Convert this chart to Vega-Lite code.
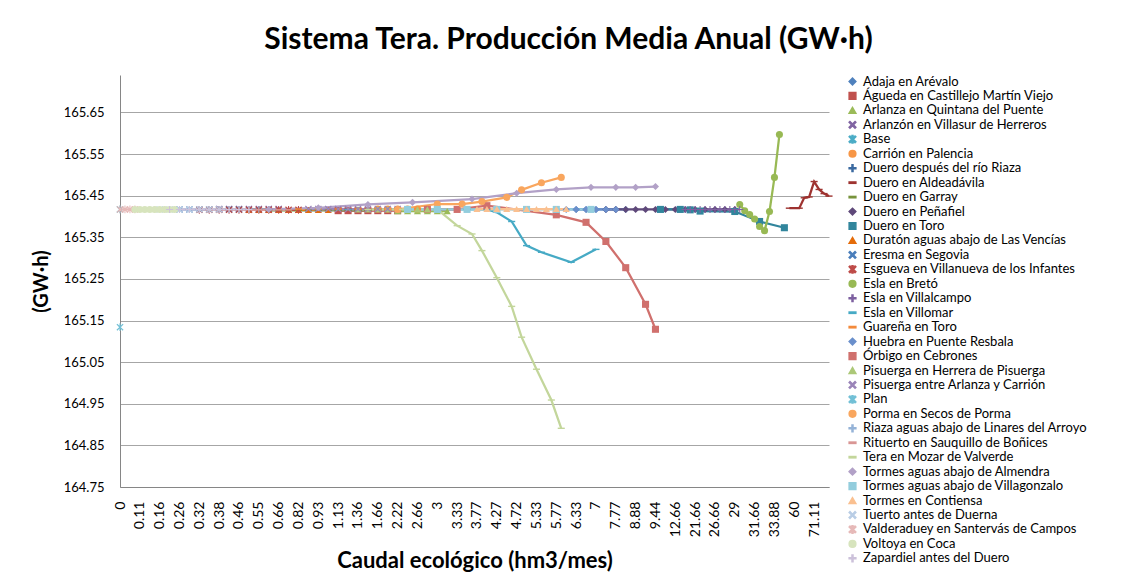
{
  "$schema": "https://vega.github.io/schema/vega-lite/v6.json",
  "width": 709,
  "height": 412,
  "autosize": {"type": "none"},
  "padding": {"left": 120, "top": 75, "right": 300, "bottom": 97},
  "background": "white",
  "title": {"text": "Sistema Tera. Producción Media Anual (GW·h)", "fontSize": 30, "font": "Lato", "fontWeight": "bold", "color": "#000000", "anchor": "middle", "frame": "group", "dx": 94, "offset": 20},
  "config": {
    "font": "Lato",
    "view": {"stroke": null},
    "legend": {"orient": "right", "offset": 12, "labelFontSize": 13, "labelColor": "#000000", "labelFont": "Lato", "labelLimit": 400, "symbolSize": 45, "rowPadding": -0.55, "gridAlign": "all", "symbolLimit": 40, "padding": 0, "title": null}
  },
  "data": {"values": [
    {"serie": "Adaja en Arévalo", "k": 92, "gwh": 165.417},
    {"serie": "Adaja en Arévalo", "k": 94, "gwh": 165.417},
    {"serie": "Adaja en Arévalo", "k": 96, "gwh": 165.417},
    {"serie": "Adaja en Arévalo", "k": 98, "gwh": 165.417},
    {"serie": "Adaja en Arévalo", "k": 100, "gwh": 165.417},
    {"serie": "Adaja en Arévalo", "k": 102, "gwh": 165.417},
    {"serie": "Águeda en Castillejo Martín Viejo", "k": 44, "gwh": 165.414},
    {"serie": "Águeda en Castillejo Martín Viejo", "k": 46, "gwh": 165.414},
    {"serie": "Águeda en Castillejo Martín Viejo", "k": 48, "gwh": 165.414},
    {"serie": "Águeda en Castillejo Martín Viejo", "k": 50, "gwh": 165.414},
    {"serie": "Águeda en Castillejo Martín Viejo", "k": 52, "gwh": 165.414},
    {"serie": "Águeda en Castillejo Martín Viejo", "k": 54, "gwh": 165.414},
    {"serie": "Águeda en Castillejo Martín Viejo", "k": 56, "gwh": 165.414},
    {"serie": "Arlanza en Quintana del Puente", "k": 56, "gwh": 165.413},
    {"serie": "Arlanza en Quintana del Puente", "k": 58, "gwh": 165.413},
    {"serie": "Arlanza en Quintana del Puente", "k": 60, "gwh": 165.413},
    {"serie": "Arlanza en Quintana del Puente", "k": 62, "gwh": 165.413},
    {"serie": "Arlanza en Quintana del Puente", "k": 64, "gwh": 165.413},
    {"serie": "Arlanza en Quintana del Puente", "k": 66, "gwh": 165.413},
    {"serie": "Arlanzón en Villasur de Herreros", "k": 20, "gwh": 165.418},
    {"serie": "Arlanzón en Villasur de Herreros", "k": 22, "gwh": 165.418},
    {"serie": "Arlanzón en Villasur de Herreros", "k": 24, "gwh": 165.418},
    {"serie": "Arlanzón en Villasur de Herreros", "k": 26, "gwh": 165.418},
    {"serie": "Arlanzón en Villasur de Herreros", "k": 28, "gwh": 165.418},
    {"serie": "Arlanzón en Villasur de Herreros", "k": 30, "gwh": 165.418},
    {"serie": "Arlanzón en Villasur de Herreros", "k": 32, "gwh": 165.418},
    {"serie": "Base", "k": 0, "gwh": 165.417},
    {"serie": "Carrión en Palencia", "k": 52, "gwh": 165.418},
    {"serie": "Carrión en Palencia", "k": 54, "gwh": 165.418},
    {"serie": "Carrión en Palencia", "k": 56, "gwh": 165.418},
    {"serie": "Carrión en Palencia", "k": 58, "gwh": 165.418},
    {"serie": "Carrión en Palencia", "k": 60, "gwh": 165.418},
    {"serie": "Carrión en Palencia", "k": 62, "gwh": 165.418},
    {"serie": "Duero después del río Riaza", "k": 14, "gwh": 165.417},
    {"serie": "Duero después del río Riaza", "k": 16, "gwh": 165.417},
    {"serie": "Duero después del río Riaza", "k": 18, "gwh": 165.417},
    {"serie": "Duero después del río Riaza", "k": 20, "gwh": 165.417},
    {"serie": "Duero después del río Riaza", "k": 22, "gwh": 165.417},
    {"serie": "Duero después del río Riaza", "k": 24, "gwh": 165.417},
    {"serie": "Duero después del río Riaza", "k": 26, "gwh": 165.417},
    {"serie": "Duero después del río Riaza", "k": 28, "gwh": 165.417},
    {"serie": "Duero después del río Riaza", "k": 30, "gwh": 165.417},
    {"serie": "Duero en Aldeadávila", "k": 135, "gwh": 165.42},
    {"serie": "Duero en Aldeadávila", "k": 136, "gwh": 165.42},
    {"serie": "Duero en Aldeadávila", "k": 137, "gwh": 165.42},
    {"serie": "Duero en Aldeadávila", "k": 138, "gwh": 165.445},
    {"serie": "Duero en Aldeadávila", "k": 139, "gwh": 165.447},
    {"serie": "Duero en Aldeadávila", "k": 140, "gwh": 165.484},
    {"serie": "Duero en Aldeadávila", "k": 141, "gwh": 165.465},
    {"serie": "Duero en Aldeadávila", "k": 142, "gwh": 165.455},
    {"serie": "Duero en Aldeadávila", "k": 143, "gwh": 165.449},
    {"serie": "Duero en Garray", "k": 30, "gwh": 165.415},
    {"serie": "Duero en Garray", "k": 32, "gwh": 165.415},
    {"serie": "Duero en Garray", "k": 34, "gwh": 165.415},
    {"serie": "Duero en Garray", "k": 36, "gwh": 165.415},
    {"serie": "Duero en Garray", "k": 38, "gwh": 165.415},
    {"serie": "Duero en Garray", "k": 40, "gwh": 165.415},
    {"serie": "Duero en Garray", "k": 42, "gwh": 165.415},
    {"serie": "Duero en Garray", "k": 44, "gwh": 165.415},
    {"serie": "Duero en Garray", "k": 46, "gwh": 165.415},
    {"serie": "Duero en Garray", "k": 48, "gwh": 165.415},
    {"serie": "Duero en Garray", "k": 50, "gwh": 165.415},
    {"serie": "Duero en Peñafiel", "k": 98, "gwh": 165.417},
    {"serie": "Duero en Peñafiel", "k": 100, "gwh": 165.417},
    {"serie": "Duero en Peñafiel", "k": 102, "gwh": 165.417},
    {"serie": "Duero en Peñafiel", "k": 104, "gwh": 165.417},
    {"serie": "Duero en Peñafiel", "k": 106, "gwh": 165.417},
    {"serie": "Duero en Peñafiel", "k": 108, "gwh": 165.417},
    {"serie": "Duero en Peñafiel", "k": 110, "gwh": 165.417},
    {"serie": "Duero en Peñafiel", "k": 112, "gwh": 165.417},
    {"serie": "Duero en Peñafiel", "k": 114, "gwh": 165.417},
    {"serie": "Duero en Peñafiel", "k": 116, "gwh": 165.417},
    {"serie": "Duero en Peñafiel", "k": 118, "gwh": 165.417},
    {"serie": "Duero en Peñafiel", "k": 120, "gwh": 165.417},
    {"serie": "Duero en Peñafiel", "k": 122, "gwh": 165.417},
    {"serie": "Duero en Peñafiel", "k": 124, "gwh": 165.417},
    {"serie": "Duero en Toro", "k": 109, "gwh": 165.417},
    {"serie": "Duero en Toro", "k": 113, "gwh": 165.417},
    {"serie": "Duero en Toro", "k": 115, "gwh": 165.416},
    {"serie": "Duero en Toro", "k": 117, "gwh": 165.413},
    {"serie": "Duero en Toro", "k": 124, "gwh": 165.412},
    {"serie": "Duero en Toro", "k": 129, "gwh": 165.388},
    {"serie": "Duero en Toro", "k": 134, "gwh": 165.373},
    {"serie": "Duratón aguas abajo de Las Vencías", "k": 26, "gwh": 165.416},
    {"serie": "Duratón aguas abajo de Las Vencías", "k": 28, "gwh": 165.416},
    {"serie": "Duratón aguas abajo de Las Vencías", "k": 30, "gwh": 165.416},
    {"serie": "Duratón aguas abajo de Las Vencías", "k": 32, "gwh": 165.416},
    {"serie": "Duratón aguas abajo de Las Vencías", "k": 34, "gwh": 165.416},
    {"serie": "Duratón aguas abajo de Las Vencías", "k": 36, "gwh": 165.416},
    {"serie": "Duratón aguas abajo de Las Vencías", "k": 38, "gwh": 165.416},
    {"serie": "Duratón aguas abajo de Las Vencías", "k": 40, "gwh": 165.416},
    {"serie": "Duratón aguas abajo de Las Vencías", "k": 42, "gwh": 165.416},
    {"serie": "Eresma en Segovia", "k": 12, "gwh": 165.417},
    {"serie": "Eresma en Segovia", "k": 14, "gwh": 165.417},
    {"serie": "Eresma en Segovia", "k": 16, "gwh": 165.417},
    {"serie": "Eresma en Segovia", "k": 18, "gwh": 165.417},
    {"serie": "Eresma en Segovia", "k": 20, "gwh": 165.417},
    {"serie": "Eresma en Segovia", "k": 22, "gwh": 165.417},
    {"serie": "Eresma en Segovia", "k": 24, "gwh": 165.417},
    {"serie": "Esgueva en Villanueva de los Infantes", "k": 16, "gwh": 165.416},
    {"serie": "Esgueva en Villanueva de los Infantes", "k": 18, "gwh": 165.416},
    {"serie": "Esgueva en Villanueva de los Infantes", "k": 20, "gwh": 165.416},
    {"serie": "Esgueva en Villanueva de los Infantes", "k": 22, "gwh": 165.416},
    {"serie": "Esgueva en Villanueva de los Infantes", "k": 24, "gwh": 165.416},
    {"serie": "Esgueva en Villanueva de los Infantes", "k": 26, "gwh": 165.416},
    {"serie": "Esgueva en Villanueva de los Infantes", "k": 28, "gwh": 165.416},
    {"serie": "Esgueva en Villanueva de los Infantes", "k": 30, "gwh": 165.416},
    {"serie": "Esgueva en Villanueva de los Infantes", "k": 32, "gwh": 165.416},
    {"serie": "Esgueva en Villanueva de los Infantes", "k": 34, "gwh": 165.416},
    {"serie": "Esgueva en Villanueva de los Infantes", "k": 36, "gwh": 165.416},
    {"serie": "Esla en Bretó", "k": 125, "gwh": 165.429},
    {"serie": "Esla en Bretó", "k": 126, "gwh": 165.414},
    {"serie": "Esla en Bretó", "k": 127, "gwh": 165.405},
    {"serie": "Esla en Bretó", "k": 128, "gwh": 165.394},
    {"serie": "Esla en Bretó", "k": 129, "gwh": 165.376},
    {"serie": "Esla en Bretó", "k": 130, "gwh": 165.366},
    {"serie": "Esla en Bretó", "k": 131, "gwh": 165.412},
    {"serie": "Esla en Bretó", "k": 132, "gwh": 165.494},
    {"serie": "Esla en Bretó", "k": 133, "gwh": 165.597},
    {"serie": "Esla en Villalcampo", "k": 114, "gwh": 165.417},
    {"serie": "Esla en Villalcampo", "k": 115, "gwh": 165.417},
    {"serie": "Esla en Villalcampo", "k": 116, "gwh": 165.417},
    {"serie": "Esla en Villalcampo", "k": 117, "gwh": 165.417},
    {"serie": "Esla en Villalcampo", "k": 118, "gwh": 165.417},
    {"serie": "Esla en Villalcampo", "k": 119, "gwh": 165.417},
    {"serie": "Esla en Villalcampo", "k": 120, "gwh": 165.417},
    {"serie": "Esla en Villalcampo", "k": 121, "gwh": 165.417},
    {"serie": "Esla en Villalcampo", "k": 122, "gwh": 165.417},
    {"serie": "Esla en Villalcampo", "k": 123, "gwh": 165.417},
    {"serie": "Esla en Villalcampo", "k": 124, "gwh": 165.417},
    {"serie": "Esla en Villalcampo", "k": 125, "gwh": 165.417},
    {"serie": "Esla en Villomar", "k": 40, "gwh": 165.417},
    {"serie": "Esla en Villomar", "k": 46, "gwh": 165.417},
    {"serie": "Esla en Villomar", "k": 52, "gwh": 165.417},
    {"serie": "Esla en Villomar", "k": 58, "gwh": 165.417},
    {"serie": "Esla en Villomar", "k": 64, "gwh": 165.417},
    {"serie": "Esla en Villomar", "k": 70, "gwh": 165.417},
    {"serie": "Esla en Villomar", "k": 74, "gwh": 165.417},
    {"serie": "Esla en Villomar", "k": 76, "gwh": 165.41},
    {"serie": "Esla en Villomar", "k": 79, "gwh": 165.388},
    {"serie": "Esla en Villomar", "k": 82, "gwh": 165.33},
    {"serie": "Esla en Villomar", "k": 85, "gwh": 165.314},
    {"serie": "Esla en Villomar", "k": 91, "gwh": 165.29},
    {"serie": "Esla en Villomar", "k": 96, "gwh": 165.321},
    {"serie": "Guareña en Toro", "k": 36, "gwh": 165.418},
    {"serie": "Guareña en Toro", "k": 40, "gwh": 165.418},
    {"serie": "Guareña en Toro", "k": 44, "gwh": 165.418},
    {"serie": "Guareña en Toro", "k": 48, "gwh": 165.418},
    {"serie": "Guareña en Toro", "k": 52, "gwh": 165.418},
    {"serie": "Guareña en Toro", "k": 56, "gwh": 165.418},
    {"serie": "Guareña en Toro", "k": 60, "gwh": 165.418},
    {"serie": "Huebra en Puente Resbala", "k": 88, "gwh": 165.417},
    {"serie": "Huebra en Puente Resbala", "k": 90, "gwh": 165.417},
    {"serie": "Huebra en Puente Resbala", "k": 92, "gwh": 165.417},
    {"serie": "Huebra en Puente Resbala", "k": 94, "gwh": 165.417},
    {"serie": "Huebra en Puente Resbala", "k": 96, "gwh": 165.417},
    {"serie": "Huebra en Puente Resbala", "k": 98, "gwh": 165.417},
    {"serie": "Huebra en Puente Resbala", "k": 100, "gwh": 165.417},
    {"serie": "Órbigo en Cebrones", "k": 62, "gwh": 165.417},
    {"serie": "Órbigo en Cebrones", "k": 68, "gwh": 165.417},
    {"serie": "Órbigo en Cebrones", "k": 74, "gwh": 165.426},
    {"serie": "Órbigo en Cebrones", "k": 88, "gwh": 165.404},
    {"serie": "Órbigo en Cebrones", "k": 94, "gwh": 165.386},
    {"serie": "Órbigo en Cebrones", "k": 98, "gwh": 165.34},
    {"serie": "Órbigo en Cebrones", "k": 102, "gwh": 165.277},
    {"serie": "Órbigo en Cebrones", "k": 106, "gwh": 165.189},
    {"serie": "Órbigo en Cebrones", "k": 108, "gwh": 165.129},
    {"serie": "Pisuerga en Herrera de Pisuerga", "k": 48, "gwh": 165.417},
    {"serie": "Pisuerga en Herrera de Pisuerga", "k": 50, "gwh": 165.417},
    {"serie": "Pisuerga en Herrera de Pisuerga", "k": 52, "gwh": 165.417},
    {"serie": "Pisuerga en Herrera de Pisuerga", "k": 54, "gwh": 165.417},
    {"serie": "Pisuerga en Herrera de Pisuerga", "k": 56, "gwh": 165.417},
    {"serie": "Pisuerga en Herrera de Pisuerga", "k": 58, "gwh": 165.417},
    {"serie": "Pisuerga en Herrera de Pisuerga", "k": 60, "gwh": 165.417},
    {"serie": "Pisuerga en Herrera de Pisuerga", "k": 62, "gwh": 165.417},
    {"serie": "Pisuerga entre Arlanza y Carrión", "k": 38, "gwh": 165.418},
    {"serie": "Pisuerga entre Arlanza y Carrión", "k": 40, "gwh": 165.418},
    {"serie": "Pisuerga entre Arlanza y Carrión", "k": 42, "gwh": 165.418},
    {"serie": "Pisuerga entre Arlanza y Carrión", "k": 44, "gwh": 165.418},
    {"serie": "Pisuerga entre Arlanza y Carrión", "k": 46, "gwh": 165.418},
    {"serie": "Pisuerga entre Arlanza y Carrión", "k": 48, "gwh": 165.418},
    {"serie": "Pisuerga entre Arlanza y Carrión", "k": 50, "gwh": 165.418},
    {"serie": "Pisuerga entre Arlanza y Carrión", "k": 52, "gwh": 165.418},
    {"serie": "Pisuerga entre Arlanza y Carrión", "k": 54, "gwh": 165.418},
    {"serie": "Pisuerga entre Arlanza y Carrión", "k": 56, "gwh": 165.418},
    {"serie": "Plan", "k": 0, "gwh": 165.134},
    {"serie": "Porma en Secos de Porma", "k": 56, "gwh": 165.417},
    {"serie": "Porma en Secos de Porma", "k": 64, "gwh": 165.43},
    {"serie": "Porma en Secos de Porma", "k": 69, "gwh": 165.43},
    {"serie": "Porma en Secos de Porma", "k": 73, "gwh": 165.436},
    {"serie": "Porma en Secos de Porma", "k": 78, "gwh": 165.446},
    {"serie": "Porma en Secos de Porma", "k": 81, "gwh": 165.464},
    {"serie": "Porma en Secos de Porma", "k": 85, "gwh": 165.481},
    {"serie": "Porma en Secos de Porma", "k": 89, "gwh": 165.494},
    {"serie": "Riaza aguas abajo de Linares del Arroyo", "k": 10, "gwh": 165.417},
    {"serie": "Riaza aguas abajo de Linares del Arroyo", "k": 12, "gwh": 165.417},
    {"serie": "Riaza aguas abajo de Linares del Arroyo", "k": 14, "gwh": 165.417},
    {"serie": "Riaza aguas abajo de Linares del Arroyo", "k": 16, "gwh": 165.417},
    {"serie": "Riaza aguas abajo de Linares del Arroyo", "k": 18, "gwh": 165.417},
    {"serie": "Riaza aguas abajo de Linares del Arroyo", "k": 20, "gwh": 165.417},
    {"serie": "Riaza aguas abajo de Linares del Arroyo", "k": 22, "gwh": 165.417},
    {"serie": "Riaza aguas abajo de Linares del Arroyo", "k": 24, "gwh": 165.417},
    {"serie": "Riaza aguas abajo de Linares del Arroyo", "k": 26, "gwh": 165.417},
    {"serie": "Riaza aguas abajo de Linares del Arroyo", "k": 28, "gwh": 165.417},
    {"serie": "Riaza aguas abajo de Linares del Arroyo", "k": 30, "gwh": 165.417},
    {"serie": "Rituerto en Sauquillo de Boñices", "k": 18, "gwh": 165.416},
    {"serie": "Rituerto en Sauquillo de Boñices", "k": 20, "gwh": 165.416},
    {"serie": "Rituerto en Sauquillo de Boñices", "k": 22, "gwh": 165.416},
    {"serie": "Rituerto en Sauquillo de Boñices", "k": 24, "gwh": 165.416},
    {"serie": "Rituerto en Sauquillo de Boñices", "k": 26, "gwh": 165.416},
    {"serie": "Rituerto en Sauquillo de Boñices", "k": 28, "gwh": 165.416},
    {"serie": "Rituerto en Sauquillo de Boñices", "k": 30, "gwh": 165.416},
    {"serie": "Rituerto en Sauquillo de Boñices", "k": 32, "gwh": 165.416},
    {"serie": "Rituerto en Sauquillo de Boñices", "k": 34, "gwh": 165.416},
    {"serie": "Tera en Mozar de Valverde", "k": 50, "gwh": 165.417},
    {"serie": "Tera en Mozar de Valverde", "k": 57, "gwh": 165.417},
    {"serie": "Tera en Mozar de Valverde", "k": 64, "gwh": 165.417},
    {"serie": "Tera en Mozar de Valverde", "k": 68, "gwh": 165.378},
    {"serie": "Tera en Mozar de Valverde", "k": 71, "gwh": 165.358},
    {"serie": "Tera en Mozar de Valverde", "k": 73, "gwh": 165.318},
    {"serie": "Tera en Mozar de Valverde", "k": 76, "gwh": 165.253},
    {"serie": "Tera en Mozar de Valverde", "k": 79, "gwh": 165.184},
    {"serie": "Tera en Mozar de Valverde", "k": 81, "gwh": 165.11},
    {"serie": "Tera en Mozar de Valverde", "k": 84, "gwh": 165.033},
    {"serie": "Tera en Mozar de Valverde", "k": 87, "gwh": 164.959},
    {"serie": "Tera en Mozar de Valverde", "k": 89, "gwh": 164.891},
    {"serie": "Tormes aguas abajo de Almendra", "k": 30, "gwh": 165.417},
    {"serie": "Tormes aguas abajo de Almendra", "k": 40, "gwh": 165.421},
    {"serie": "Tormes aguas abajo de Almendra", "k": 50, "gwh": 165.429},
    {"serie": "Tormes aguas abajo de Almendra", "k": 59, "gwh": 165.434},
    {"serie": "Tormes aguas abajo de Almendra", "k": 71, "gwh": 165.442},
    {"serie": "Tormes aguas abajo de Almendra", "k": 80, "gwh": 165.456},
    {"serie": "Tormes aguas abajo de Almendra", "k": 88, "gwh": 165.465},
    {"serie": "Tormes aguas abajo de Almendra", "k": 95, "gwh": 165.47},
    {"serie": "Tormes aguas abajo de Almendra", "k": 100, "gwh": 165.47},
    {"serie": "Tormes aguas abajo de Almendra", "k": 104, "gwh": 165.47},
    {"serie": "Tormes aguas abajo de Almendra", "k": 108, "gwh": 165.472},
    {"serie": "Tormes aguas abajo de Villagonzalo", "k": 58, "gwh": 165.417},
    {"serie": "Tormes aguas abajo de Villagonzalo", "k": 64, "gwh": 165.417},
    {"serie": "Tormes aguas abajo de Villagonzalo", "k": 70, "gwh": 165.417},
    {"serie": "Tormes aguas abajo de Villagonzalo", "k": 76, "gwh": 165.417},
    {"serie": "Tormes aguas abajo de Villagonzalo", "k": 82, "gwh": 165.417},
    {"serie": "Tormes aguas abajo de Villagonzalo", "k": 88, "gwh": 165.417},
    {"serie": "Tormes aguas abajo de Villagonzalo", "k": 95, "gwh": 165.417},
    {"serie": "Tormes en Contiensa", "k": 72, "gwh": 165.418},
    {"serie": "Tormes en Contiensa", "k": 74, "gwh": 165.418},
    {"serie": "Tormes en Contiensa", "k": 76, "gwh": 165.418},
    {"serie": "Tormes en Contiensa", "k": 78, "gwh": 165.418},
    {"serie": "Tormes en Contiensa", "k": 80, "gwh": 165.418},
    {"serie": "Tormes en Contiensa", "k": 82, "gwh": 165.418},
    {"serie": "Tormes en Contiensa", "k": 84, "gwh": 165.418},
    {"serie": "Tormes en Contiensa", "k": 86, "gwh": 165.418},
    {"serie": "Tormes en Contiensa", "k": 88, "gwh": 165.418},
    {"serie": "Tormes en Contiensa", "k": 90, "gwh": 165.418},
    {"serie": "Tuerto antes de Duerna", "k": 8, "gwh": 165.417},
    {"serie": "Tuerto antes de Duerna", "k": 10, "gwh": 165.417},
    {"serie": "Tuerto antes de Duerna", "k": 12, "gwh": 165.417},
    {"serie": "Tuerto antes de Duerna", "k": 14, "gwh": 165.417},
    {"serie": "Tuerto antes de Duerna", "k": 16, "gwh": 165.417},
    {"serie": "Tuerto antes de Duerna", "k": 18, "gwh": 165.417},
    {"serie": "Tuerto antes de Duerna", "k": 20, "gwh": 165.417},
    {"serie": "Valderaduey en Santervás de Campos", "k": 0, "gwh": 165.417},
    {"serie": "Valderaduey en Santervás de Campos", "k": 1, "gwh": 165.417},
    {"serie": "Valderaduey en Santervás de Campos", "k": 2, "gwh": 165.417},
    {"serie": "Valderaduey en Santervás de Campos", "k": 3, "gwh": 165.417},
    {"serie": "Voltoya en Coca", "k": 3, "gwh": 165.417},
    {"serie": "Voltoya en Coca", "k": 4, "gwh": 165.417},
    {"serie": "Voltoya en Coca", "k": 5, "gwh": 165.417},
    {"serie": "Voltoya en Coca", "k": 6, "gwh": 165.417},
    {"serie": "Voltoya en Coca", "k": 7, "gwh": 165.417},
    {"serie": "Voltoya en Coca", "k": 8, "gwh": 165.417},
    {"serie": "Voltoya en Coca", "k": 9, "gwh": 165.417},
    {"serie": "Voltoya en Coca", "k": 10, "gwh": 165.417},
    {"serie": "Voltoya en Coca", "k": 11, "gwh": 165.417},
    {"serie": "Zapardiel antes del Duero", "k": 10, "gwh": 165.417},
    {"serie": "Zapardiel antes del Duero", "k": 12, "gwh": 165.417},
    {"serie": "Zapardiel antes del Duero", "k": 14, "gwh": 165.417},
    {"serie": "Zapardiel antes del Duero", "k": 16, "gwh": 165.417},
    {"serie": "Zapardiel antes del Duero", "k": 18, "gwh": 165.417},
    {"serie": "Zapardiel antes del Duero", "k": 20, "gwh": 165.417},
    {"serie": "Zapardiel antes del Duero", "k": 22, "gwh": 165.417},
    {"serie": "Zapardiel antes del Duero", "k": 24, "gwh": 165.417},
    {"serie": "Zapardiel antes del Duero", "k": 26, "gwh": 165.417}
  ]},
  "encoding": {
    "x": {
      "field": "k", "type": "quantitative",
      "scale": {"domain": [0, 143], "nice": false, "zero": false},
      "axis": {
        "values": [0, 4, 8, 12, 16, 20, 24, 28, 32, 36, 40, 44, 48, 52, 56, 60, 64, 68, 72, 76, 80, 84, 88, 92, 96, 100, 104, 108, 112, 116, 120, 124, 128, 132, 136, 140],
        "labelExpr": "['0','0.11','0.16','0.26','0.32','0.38','0.46','0.55','0.66','0.82','0.93','1.13','1.36','1.66','2.22','2.66','3','3.33','3.77','4.27','4.72','5.33','5.77','6.33','7','7.77','8.88','9.44','12.66','21.66','26.66','29','31.66','33.88','60','71.11'][round(datum.value/4)]",
        "labelAngle": -90, "labelFontSize": 14, "labelColor": "#000000", "labelFont": "Lato",
        "ticks": false, "grid": false, "domainColor": "#868686", "domainWidth": 1,
        "labelPadding": 14, "labelOverlap": false, "labelFlush": false, "labelBound": false,
        "title": "Caudal ecológico (hm3/mes)", "titleFontSize": 22, "titleFontWeight": "bold", "titleColor": "#000000", "titleFont": "Lato", "titlePadding": 14
      }
    },
    "y": {
      "field": "gwh", "type": "quantitative",
      "scale": {"domain": [164.75, 165.74], "nice": false, "zero": false},
      "axis": {
        "values": [164.75, 164.85, 164.95, 165.05, 165.15, 165.25, 165.35, 165.45, 165.55, 165.65],
        "format": ".2f", "labelFontSize": 13, "labelColor": "#000000", "labelFont": "Lato",
        "ticks": false, "grid": true, "gridColor": "#A6A6A6", "gridWidth": 1,
        "domainColor": "#868686", "domainWidth": 1, "labelPadding": 16,
        "title": "(GW·h)", "titleFontSize": 20, "titleFontWeight": "bold", "titleColor": "#000000", "titleFont": "Lato", "titlePadding": 12
      }
    },
    "color": {
      "field": "serie", "type": "nominal",
      "legend": {"title": null},
      "scale": {
        "domain": ["Adaja en Arévalo", "Águeda en Castillejo Martín Viejo", "Arlanza en Quintana del Puente", "Arlanzón en Villasur de Herreros", "Base", "Carrión en Palencia", "Duero después del río Riaza", "Duero en Aldeadávila", "Duero en Garray", "Duero en Peñafiel", "Duero en Toro", "Duratón aguas abajo de Las Vencías", "Eresma en Segovia", "Esgueva en Villanueva de los Infantes", "Esla en Bretó", "Esla en Villalcampo", "Esla en Villomar", "Guareña en Toro", "Huebra en Puente Resbala", "Órbigo en Cebrones", "Pisuerga en Herrera de Pisuerga", "Pisuerga entre Arlanza y Carrión", "Plan", "Porma en Secos de Porma", "Riaza aguas abajo de Linares del Arroyo", "Rituerto en Sauquillo de Boñices", "Tera en Mozar de Valverde", "Tormes aguas abajo de Almendra", "Tormes aguas abajo de Villagonzalo", "Tormes en Contiensa", "Tuerto antes de Duerna", "Valderaduey en Santervás de Campos", "Voltoya en Coca", "Zapardiel antes del Duero"],
        "range": ["#4F81BD", "#C0504D", "#9BBB59", "#8064A2", "#4BACC6", "#F79646", "#3B6AA0", "#9E3330", "#77933C", "#5F497A", "#31859C", "#E46C0A", "#4A7EBB", "#BE4B48", "#98B954", "#7D60A0", "#46AAC5", "#F38A3B", "#6A8FCB", "#D0706D", "#ACC878", "#9A84B8", "#72C0D6", "#F9A65E", "#95B3D7", "#D99694", "#C3D69B", "#B2A1C7", "#93CDDD", "#FAC090", "#B9CDE5", "#E6B9B8", "#D7E4BD", "#CCC1DA"]
      }
    }
  },
  "layer": [
    {
      "mark": {"type": "line", "strokeWidth": 2.25}
    },
    {
      "mark": {"type": "point", "filled": true, "size": 50, "opacity": 1},
      "encoding": {
        "shape": {
          "field": "serie", "type": "nominal", "legend": {"title": null},
          "scale": {
            "domain": ["Adaja en Arévalo", "Águeda en Castillejo Martín Viejo", "Arlanza en Quintana del Puente", "Arlanzón en Villasur de Herreros", "Base", "Carrión en Palencia", "Duero después del río Riaza", "Duero en Aldeadávila", "Duero en Garray", "Duero en Peñafiel", "Duero en Toro", "Duratón aguas abajo de Las Vencías", "Eresma en Segovia", "Esgueva en Villanueva de los Infantes", "Esla en Bretó", "Esla en Villalcampo", "Esla en Villomar", "Guareña en Toro", "Huebra en Puente Resbala", "Órbigo en Cebrones", "Pisuerga en Herrera de Pisuerga", "Pisuerga entre Arlanza y Carrión", "Plan", "Porma en Secos de Porma", "Riaza aguas abajo de Linares del Arroyo", "Rituerto en Sauquillo de Boñices", "Tera en Mozar de Valverde", "Tormes aguas abajo de Almendra", "Tormes aguas abajo de Villagonzalo", "Tormes en Contiensa", "Tuerto antes de Duerna", "Valderaduey en Santervás de Campos", "Voltoya en Coca", "Zapardiel antes del Duero"],
            "range": [
              "diamond", "square", "triangle-up",
              "M-1,-0.75L-0.75,-1L0,-0.25L0.75,-1L1,-0.75L0.25,0L1,0.75L0.75,1L0,0.25L-0.75,1L-1,0.75L-0.25,0Z",
              "M-1,-0.75L-0.75,-1L0,-0.25L0.75,-1L1,-0.75L0.25,0L1,0.75L0.75,1L0,0.25L-0.75,1L-1,0.75L-0.25,0Z M-0.15,-1.1L0.15,-1.1L0.15,1.1L-0.15,1.1Z",
              "circle",
              "M-1,-0.15L1,-0.15L1,0.15L-1,0.15Z M-0.15,-1L0.15,-1L0.15,1L-0.15,1Z",
              "M-1,-0.2L1,-0.2L1,0.2L-1,0.2Z",
              "M-1,-0.2L1,-0.2L1,0.2L-1,0.2Z",
              "diamond", "square", "triangle-up",
              "M-1,-0.75L-0.75,-1L0,-0.25L0.75,-1L1,-0.75L0.25,0L1,0.75L0.75,1L0,0.25L-0.75,1L-1,0.75L-0.25,0Z",
              "M-1,-0.75L-0.75,-1L0,-0.25L0.75,-1L1,-0.75L0.25,0L1,0.75L0.75,1L0,0.25L-0.75,1L-1,0.75L-0.25,0Z M-0.15,-1.1L0.15,-1.1L0.15,1.1L-0.15,1.1Z",
              "circle",
              "M-1,-0.15L1,-0.15L1,0.15L-1,0.15Z M-0.15,-1L0.15,-1L0.15,1L-0.15,1Z",
              "M-1,-0.2L1,-0.2L1,0.2L-1,0.2Z",
              "M-1,-0.2L1,-0.2L1,0.2L-1,0.2Z",
              "diamond", "square", "triangle-up",
              "M-1,-0.75L-0.75,-1L0,-0.25L0.75,-1L1,-0.75L0.25,0L1,0.75L0.75,1L0,0.25L-0.75,1L-1,0.75L-0.25,0Z",
              "M-1,-0.75L-0.75,-1L0,-0.25L0.75,-1L1,-0.75L0.25,0L1,0.75L0.75,1L0,0.25L-0.75,1L-1,0.75L-0.25,0Z M-0.15,-1.1L0.15,-1.1L0.15,1.1L-0.15,1.1Z",
              "circle",
              "M-1,-0.15L1,-0.15L1,0.15L-1,0.15Z M-0.15,-1L0.15,-1L0.15,1L-0.15,1Z",
              "M-1,-0.2L1,-0.2L1,0.2L-1,0.2Z",
              "M-1,-0.2L1,-0.2L1,0.2L-1,0.2Z",
              "diamond", "square", "triangle-up",
              "M-1,-0.75L-0.75,-1L0,-0.25L0.75,-1L1,-0.75L0.25,0L1,0.75L0.75,1L0,0.25L-0.75,1L-1,0.75L-0.25,0Z",
              "M-1,-0.75L-0.75,-1L0,-0.25L0.75,-1L1,-0.75L0.25,0L1,0.75L0.75,1L0,0.25L-0.75,1L-1,0.75L-0.25,0Z M-0.15,-1.1L0.15,-1.1L0.15,1.1L-0.15,1.1Z",
              "circle",
              "M-1,-0.15L1,-0.15L1,0.15L-1,0.15Z M-0.15,-1L0.15,-1L0.15,1L-0.15,1Z"
            ]
          }
        }
      }
    }
  ]
}
